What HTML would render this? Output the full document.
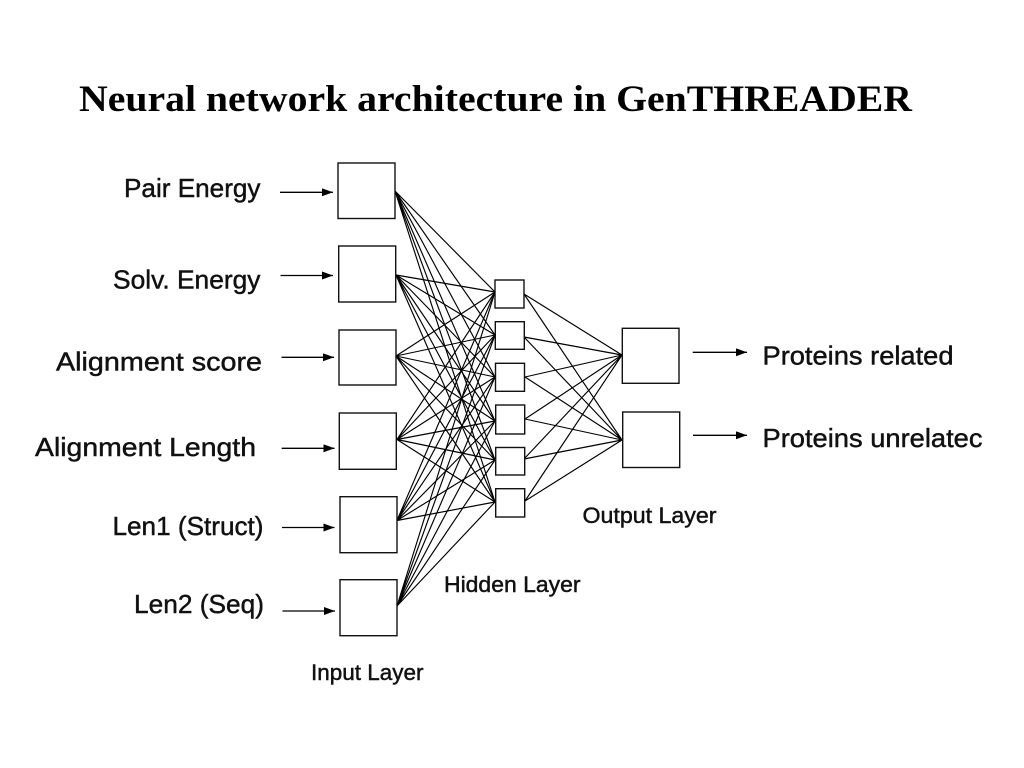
<!DOCTYPE html>
<html>
<head>
<meta charset="utf-8">
<style>
html,body{margin:0;padding:0;background:#fff;width:1024px;height:768px;overflow:hidden}
svg{display:block}
.l{font-family:"Liberation Sans",sans-serif;fill:#111;stroke:#111;stroke-width:.45}
.soft{filter:blur(.35px)}
</style>
</head>
<body>
<svg width="1024" height="768" viewBox="0 0 1024 768" xmlns="http://www.w3.org/2000/svg">
<defs>
<marker id="a" markerWidth="12" markerHeight="10" refX="11" refY="4" orient="auto" markerUnits="userSpaceOnUse"><path d="M0 0L11 4L0 8z" fill="#000"/></marker>
</defs>
<text x="79" y="111" font-family="Liberation Serif,serif" font-weight="bold" font-size="37.5" textLength="833" lengthAdjust="spacingAndGlyphs" fill="#000">Neural network architecture in GenTHREADER</text>

<g class="soft">
<g stroke="#000" stroke-width="1.15" fill="none">
<!-- input to hidden -->
<path d="M395 191L495 292M395 191L495 335M395 191L495 377M395 191L495 421M395 191L495 460M395 191L495 502"/>
<path d="M396 275L495 292M396 275L495 335M396 275L495 377M396 275L495 421M396 275L495 460M396 275L495 502"/>
<path d="M396 356L495 292M396 356L495 335M396 356L495 377M396 356L495 421M396 356L495 460M396 356L495 502"/>
<path d="M397 439.5L495 292M397 439.5L495 335M397 439.5L495 377M397 439.5L495 421M397 439.5L495 460M397 439.5L495 502"/>
<path d="M397 520.5L495 292M397 520.5L495 335M397 520.5L495 377M397 520.5L495 421M397 520.5L495 460M397 520.5L495 502"/>
<path d="M397 606L495 292M397 606L495 335M397 606L495 377M397 606L495 421M397 606L495 460M397 606L495 502"/>
<!-- hidden to output -->
<path d="M524 294L622 355M524 337L622 355M525 377L622 355M525 419L622 355M524 459L622 355M525 501L622 355"/>
<path d="M524 294L622 440M524 337L622 440M525 377L622 440M525 419L622 440M524 459L622 440M525 501L622 440"/>
</g>

<g stroke="#111" stroke-width="1.4" fill="#fff">
<rect x="338" y="163" width="57" height="55.5"/>
<rect x="338.7" y="246" width="57" height="56"/>
<rect x="339" y="330" width="57" height="55"/>
<rect x="339.3" y="413" width="57" height="56.3"/>
<rect x="340" y="496.7" width="57" height="56"/>
<rect x="340" y="579.7" width="57" height="56"/>
<rect x="495" y="280" width="29" height="28"/>
<rect x="495.3" y="321.7" width="29" height="27.6"/>
<rect x="495.5" y="363.3" width="29" height="28"/>
<rect x="495.7" y="405" width="29" height="29"/>
<rect x="495.7" y="447.5" width="29" height="27.5"/>
<rect x="495.7" y="488.7" width="29" height="28.3"/>
<rect x="622.3" y="328.3" width="56.7" height="55"/>
<rect x="622.7" y="412" width="57" height="55.5"/>
</g>

<g stroke="#000" stroke-width="1.3" fill="none">
<path d="M280 192.3H333" marker-end="url(#a)"/>
<path d="M280.5 275.5H333" marker-end="url(#a)"/>
<path d="M281.5 357.3H334" marker-end="url(#a)"/>
<path d="M281.7 448.3H334.5" marker-end="url(#a)"/>
<path d="M282 527.5H334.5" marker-end="url(#a)"/>
<path d="M282.5 611H335" marker-end="url(#a)"/>
<path d="M692.7 352.3H747" marker-end="url(#a)"/>
<path d="M693 435.3H747" marker-end="url(#a)"/>
</g>

<g class="l">
<text x="124" y="197" font-size="26" textLength="136.5" lengthAdjust="spacingAndGlyphs">Pair Energy</text>
<text x="113" y="288.5" font-size="26" textLength="147.5" lengthAdjust="spacingAndGlyphs">Solv. Energy</text>
<text x="56" y="370.5" font-size="26" textLength="206" lengthAdjust="spacingAndGlyphs">Alignment score</text>
<text x="35" y="456" font-size="26" textLength="221" lengthAdjust="spacingAndGlyphs">Alignment Length</text>
<text x="112.5" y="535" font-size="26" textLength="151" lengthAdjust="spacingAndGlyphs">Len1 (Struct)</text>
<text x="134" y="613" font-size="26" textLength="130" lengthAdjust="spacingAndGlyphs">Len2 (Seq)</text>
<text x="762.5" y="364.5" font-size="26" textLength="191" lengthAdjust="spacingAndGlyphs">Proteins related</text>
<text x="762.5" y="447" font-size="26" textLength="220" lengthAdjust="spacingAndGlyphs">Proteins unrelatec</text>
<text x="582.5" y="523" font-size="22" textLength="134" lengthAdjust="spacingAndGlyphs">Output Layer</text>
<text x="444" y="592" font-size="22" textLength="136.5" lengthAdjust="spacingAndGlyphs">Hidden Layer</text>
<text x="311" y="680" font-size="22" textLength="112.5" lengthAdjust="spacingAndGlyphs">Input Layer</text>
</g>
</g>
</svg>
</body>
</html>
